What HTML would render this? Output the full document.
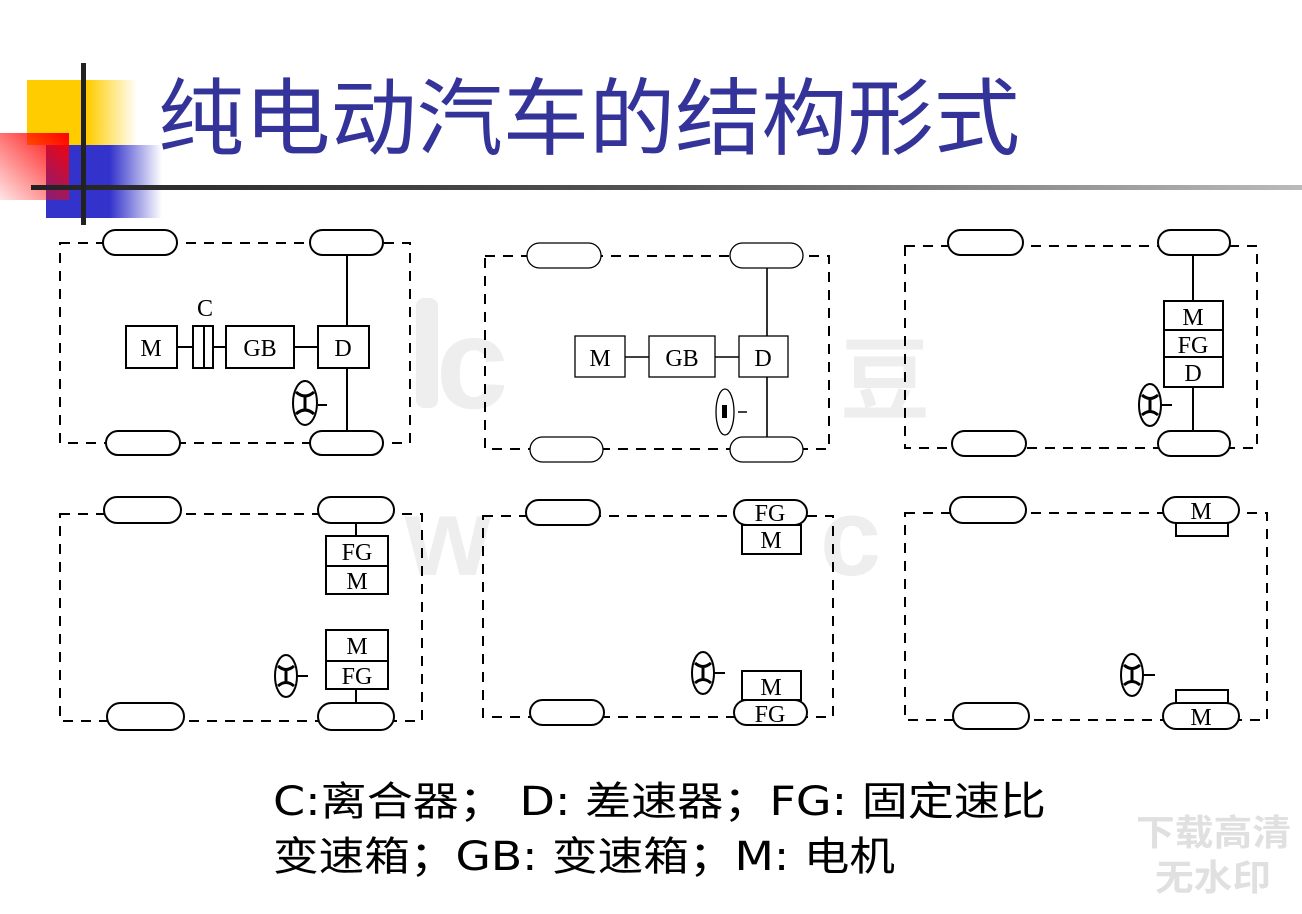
<!DOCTYPE html>
<html><head><meta charset="utf-8"><style>
html,body{margin:0;padding:0;background:#fff;width:1302px;height:914px;overflow:hidden}
svg{display:block}
</style></head><body>
<svg width="1302" height="914" viewBox="0 0 1302 914" xmlns="http://www.w3.org/2000/svg">
<defs>
<linearGradient id="gy" x1="0" x2="1"><stop offset="0" stop-color="#ffcc00"/><stop offset="0.55" stop-color="#ffcc00"/><stop offset="1" stop-color="#ffcc00" stop-opacity="0"/></linearGradient>
<linearGradient id="gb" x1="0" x2="1"><stop offset="0" stop-color="#3333cc"/><stop offset="0.55" stop-color="#3333cc"/><stop offset="1" stop-color="#3333cc" stop-opacity="0"/></linearGradient>
<linearGradient id="gr" x1="1" y1="0" x2="0" y2="1"><stop offset="0" stop-color="#ff0000"/><stop offset="1" stop-color="#ff0000" stop-opacity="0.1"/></linearGradient>
<linearGradient id="gl" x1="0" x2="1"><stop offset="0" stop-color="#222"/><stop offset="0.5" stop-color="#555"/><stop offset="1" stop-color="#bbb"/></linearGradient>
</defs>
<rect x="27" y="80" width="110" height="65" fill="url(#gy)"/>
<rect x="46" y="145" width="116" height="73" fill="url(#gb)"/>
<rect x="0" y="133" width="69" height="67" fill="url(#gr)"/>
<rect x="31" y="185" width="1271" height="5" fill="url(#gl)"/>
<rect x="81" y="63" width="5" height="162" fill="#222"/>
<text x="158" y="148" font-family="'Liberation Sans','Noto Sans CJK SC',sans-serif" font-size="84" fill="#333399" textLength="862" lengthAdjust="spacingAndGlyphs">纯电动汽车的结构形式</text>

<g fill="#eeeeee" font-family="'Liberation Sans',sans-serif" font-weight="bold">
<rect x="416" y="298" width="22" height="110" rx="8"/>
<text x="436" y="408" font-size="130">c</text>
<text x="840" y="412" font-size="90" font-family="'Noto Sans CJK SC',sans-serif">豆</text>
<text x="405" y="575" font-size="110">w</text>
<text x="820" y="575" font-size="110">c</text>
</g>

<g fill="none" stroke="#000" stroke-width="2">
<path d="M60 243H410V443H60Z" stroke-dasharray="10 8"/>
<g fill="#fff">
<rect x="103" y="230" width="74" height="25" rx="12.5"/><rect x="310" y="230" width="73" height="25" rx="12.5"/>
<rect x="106" y="431" width="74" height="24" rx="12"/><rect x="310" y="431" width="73" height="24" rx="12"/>
</g>
<path d="M347 255V326M347 368V431M177 347H193M213 347H226M294 347H318M204 326V368M318 405H327"/>
<rect x="126" y="326" width="51" height="42" fill="#fff"/>
<rect x="193" y="326" width="20" height="42"/>
<rect x="226" y="326" width="68" height="42"/>
<rect x="318" y="326" width="51" height="42"/>
<ellipse cx="305" cy="403" rx="12" ry="22"/>
<path d="M296 392Q305 400 314 392M296 414Q305 406 314 414M305 397V410" stroke-width="3"/>

<path d="M485 256H829V449H485Z" stroke-dasharray="10 8"/>
<g fill="#fff" stroke-width="1.3">
<rect x="527" y="243" width="74" height="25" rx="12.5"/><rect x="730" y="243" width="73" height="25" rx="12.5"/>
<rect x="530" y="437" width="73" height="25" rx="12.5"/><rect x="730" y="437" width="73" height="25" rx="12.5"/>
</g>
<path d="M767 268V336M767 377V437M625 357H649M715 357H739M738 412H747" stroke-width="1.6"/>
<g stroke-width="1.3"><rect x="575" y="336" width="50" height="41"/><rect x="649" y="336" width="66" height="41"/><rect x="739" y="336" width="49" height="41"/>
<ellipse cx="725" cy="412" rx="9" ry="23"/></g>
<rect x="722" y="405" width="5" height="13" fill="#000" stroke="none"/>

<path d="M905 246H1257V448H905Z" stroke-dasharray="10 8"/>
<g fill="#fff">
<rect x="948" y="230" width="75" height="25" rx="12.5"/><rect x="1158" y="230" width="72" height="25" rx="12.5"/>
<rect x="952" y="431" width="74" height="25" rx="12.5"/><rect x="1158" y="431" width="72" height="25" rx="12.5"/>
</g>
<path d="M1193 255V301M1193 387V431M1162 405H1172"/>
<rect x="1164" y="301" width="59" height="86"/><path d="M1164 330H1223M1164 357H1223"/>
<ellipse cx="1150" cy="405" rx="11" ry="21"/>
<path d="M1142 395Q1150 402 1158 395M1142 415Q1150 408 1158 415M1150 399V411" stroke-width="3"/>

<path d="M60 514H422V721H60Z" stroke-dasharray="10 8"/>
<g fill="#fff">
<rect x="104" y="497" width="77" height="26" rx="13"/><rect x="318" y="497" width="76" height="26" rx="13"/>
<rect x="107" y="703" width="77" height="27" rx="13.5"/><rect x="318" y="703" width="76" height="27" rx="13.5"/>
</g>
<path d="M356 523V536M356 689V703M298 676H308"/>
<rect x="326" y="536" width="62" height="58"/><path d="M326 566H388"/>
<rect x="326" y="630" width="62" height="59"/><path d="M326 661H388"/>
<ellipse cx="286" cy="676" rx="11" ry="21"/>
<path d="M278 666Q286 673 294 666M278 686Q286 679 294 686M286 670V682" stroke-width="3"/>

<path d="M483 516H833V717H483Z" stroke-dasharray="10 8"/>
<g fill="#fff">
<rect x="526" y="500" width="74" height="25" rx="12.5"/><rect x="734" y="500" width="73" height="25" rx="12.5"/>
<rect x="530" y="700" width="74" height="25" rx="12.5"/><rect x="734" y="700" width="73" height="25" rx="12.5"/>
<rect x="742" y="525" width="59" height="29"/><rect x="742" y="671" width="59" height="29"/>
</g>
<path d="M714 673H725"/>
<ellipse cx="703" cy="673" rx="11" ry="21"/>
<path d="M695 663Q703 670 711 663M695 683Q703 676 711 683M703 667V679" stroke-width="3"/>

<path d="M905 513H1267V720H905Z" stroke-dasharray="10 8"/>
<g fill="#fff">
<rect x="950" y="497" width="76" height="26" rx="13"/><rect x="1163" y="497" width="76" height="26" rx="13"/>
<rect x="953" y="703" width="76" height="26" rx="13"/><rect x="1163" y="703" width="76" height="26" rx="13"/>
<rect x="1176" y="523" width="52" height="13"/><rect x="1176" y="690" width="52" height="13"/>
</g>
<path d="M1144 675H1155"/>
<ellipse cx="1132" cy="675" rx="11" ry="21"/>
<path d="M1124 665Q1132 672 1140 665M1124 685Q1132 678 1140 685M1132 669V681" stroke-width="3"/>
</g>

<g font-family="'Liberation Serif',serif" font-size="24" fill="#000" text-anchor="middle">
<text x="205" y="316">C</text>
<text x="151" y="356">M</text><text x="260" y="356">GB</text><text x="343" y="356">D</text>
<text x="600" y="366">M</text><text x="682" y="366">GB</text><text x="763" y="366">D</text>
<text x="1193" y="325">M</text><text x="1193" y="353">FG</text><text x="1193" y="381">D</text>
<text x="357" y="560">FG</text><text x="357" y="589">M</text>
<text x="357" y="654">M</text><text x="357" y="684">FG</text>
<text x="770" y="521">FG</text><text x="771" y="548">M</text>
<text x="771" y="695">M</text><text x="770" y="722">FG</text>
<text x="1201" y="519">M</text><text x="1201" y="725">M</text>
</g>

<g font-family="'DejaVu Sans','Noto Sans CJK SC',sans-serif" font-size="40" fill="#000">
<text x="273" y="815" textLength="773" lengthAdjust="spacingAndGlyphs">C:离合器；  D: 差速器；FG: 固定速比</text>
<text x="273" y="870" textLength="622" lengthAdjust="spacingAndGlyphs">变速箱；GB: 变速箱；M: 电机</text>
</g>
<g font-family="'Noto Sans CJK SC',sans-serif" font-size="36" fill="#e0e0e0" font-weight="bold">
<text x="1136" y="845" textLength="155" lengthAdjust="spacingAndGlyphs">下载高清</text>
<text x="1155" y="890" textLength="116" lengthAdjust="spacingAndGlyphs">无水印</text>
</g>
</svg>
</body></html>
